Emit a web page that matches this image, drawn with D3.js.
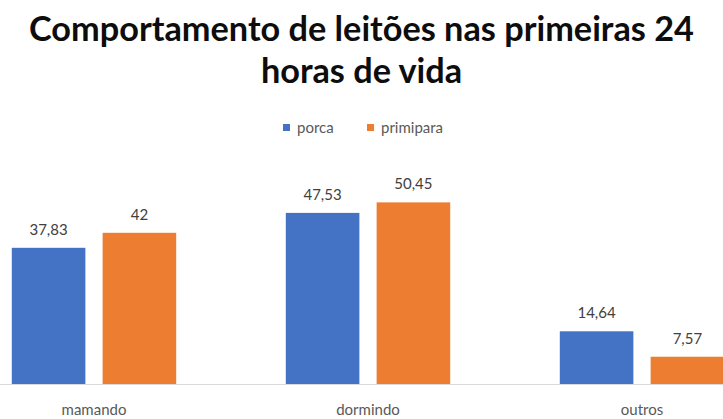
<!DOCTYPE html>
<html>
<head>
<meta charset="utf-8">
<script src="https://cdn.jsdelivr.net/npm/d3@7"></script>
<style>
	body { margin: 0; background: #ffffff; }
	svg { display: block; font-family: Lato, "Open Sans", sans-serif; }
</style>
</head>
<body>
<div id="chart"></div>
<script>
let titleLines = ['Comportamento de leitões nas primeiras 24', 'horas de vida']
let categories = ['mamando', 'dormindo', 'outros']
let seriesNames = ['porca', 'primipara']
let porcaValues = [37.83, 47.53, 14.64]
let primiparaValues = [42, 50.45, 7.57]
let valueLabels = [['37,83', '47,53', '14,64'], ['42', '50,45', '7,57']]
let colours = ['#4472C4', '#ED7D31']

function init(){
	let width = 723, height = 419
	let svg = d3.select('#chart')
		.append('svg')
		.attr('width', width)
		.attr('height', height)

	// title, two lines centred, scaled to the width of the original
	let title = svg.append('g')
	titleLines.forEach(function(line, i){
		title.append('text')
			.attr('x', width / 2)
			.attr('y', 41 + i * 42)
			.attr('text-anchor', 'middle')
			.attr('font-weight', 'bold')
			.attr('font-size', 30)
			.attr('fill', '#0d0d0d')
			.text(line)
	})
	let firstLen = title.select('text').node().getComputedTextLength()
	let size = 30 * 665 / firstLen
	title.selectAll('text').attr('font-size', size)

	// legend
	let legendX = [283, 367]
	seriesNames.forEach(function(name, i){
		svg.append('rect')
			.attr('x', legendX[i])
			.attr('y', 124)
			.attr('width', 7)
			.attr('height', 7)
			.attr('fill', colours[i])
		svg.append('text')
			.attr('x', legendX[i] + 14)
			.attr('y', 133)
			.attr('font-size', 15)
			.attr('fill', '#595959')
			.text(name)
	})

	let baseline = 384
	let x = d3.scaleBand()
		.domain(categories)
		.range([-43, 779])
		.paddingInner(0.4)
		.paddingOuter(0.2)

	let x1 = d3.scaleBand()
		.domain(seriesNames)
		.range([0, x.bandwidth()])
		.paddingInner(0.19)

	let y = d3.scaleLinear()
		.domain([0, 60])
		.range([baseline, baseline - 216])

	let rows = categories.map(function(c, i){
		return {cat: c, values: [porcaValues[i], primiparaValues[i]]}
	})

	let groups = svg.selectAll('.group')
		.data(rows)
		.enter()
		.append('g')
		.attr('transform', function(d){ return 'translate(' + x(d.cat) + ',0)' })

	let cells = function(d, ci){
		return d.values.map(function(v, si){ return {s: seriesNames[si], v: v, si: si, ci: ci} })
	}

	groups.selectAll('rect')
		.data(cells)
		.enter()
		.append('rect')
		.attr('x', function(d){ return x1(d.s) })
		.attr('y', function(d){ return y(d.v) })
		.attr('width', x1.bandwidth())
		.attr('height', function(d){ return y(0) - y(d.v) })
		.attr('fill', function(d){ return colours[d.si] })

	groups.selectAll('.lbl')
		.data(cells)
		.enter()
		.append('text')
		.attr('x', function(d){ return x1(d.s) + x1.bandwidth() / 2 })
		.attr('y', function(d){ return y(d.v) - 13 })
		.attr('text-anchor', 'middle')
		.attr('font-size', 15)
		.attr('fill', '#404040')
		.text(function(d){ return valueLabels[d.si][d.ci] })

	// category axis
	let axis = svg.append('g')
		.attr('transform', 'translate(0,' + baseline + ')')
		.call(d3.axisBottom(x).tickSize(0).tickPadding(20))
	axis.select('.domain').attr('stroke', '#d9d9d9').attr('stroke-width', 1.2)
	axis.selectAll('text')
		.attr('font-size', 15)
		.attr('fill', '#595959')
		.attr('font-family', 'Lato, sans-serif')
}

init()
</script>
</body>
</html>
